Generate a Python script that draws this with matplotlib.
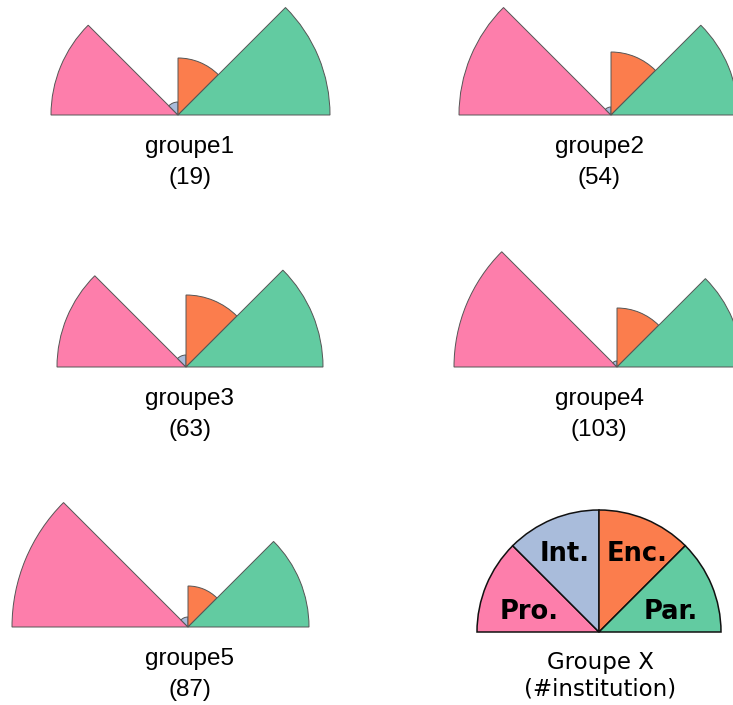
import matplotlib
matplotlib.use("Agg")
import matplotlib.pyplot as plt
import numpy as np
from matplotlib.patches import Wedge

# categories, in drawing order from left (180 deg) to right (0 deg)
categories = ["Pro.", "Int.", "Enc.", "Par."]
colors = ["#fd7eab", "#a9bcdb", "#fb7d4d", "#62cba1"]

groups = ["groupe1", "groupe2", "groupe3", "groupe4", "groupe5"]
counts = [19, 54, 63, 103, 87]

# wedge radii (same unit for every group)
pro = [127, 152, 129, 163, 176]
inte = [13, 8, 12, 6, 10]
enc = [57, 63, 72, 59, 41]
par = [152, 127, 137, 125, 121]

# panel layout (pixels, y downwards)
centers = [(178, 115), (611, 115), (186, 367), (617, 367), (188, 627)]
label_x = [190, 599, 190, 599, 190]
legend_center = (599, 632)
legend_radius = 122
# label position inside the legend wedge: (angle deg, fraction of radius)
legend_pos = [(162, 0.6), (113, 0.72), (65, 0.73), (18, 0.62)]

W, H = 733, 705
fig = plt.figure(figsize=(W / 100, H / 100), dpi=100)
ax = fig.add_axes([0, 0, 1, 1])
ax.set_xlim(0, W)
ax.set_ylim(H, 0)
ax.set_aspect("equal")
ax.axis("off")


def half_rose(ax, c, radii, lw, ec):
    # y axis is inverted, so angles are negated
    for k, (r, col) in enumerate(zip(radii, colors)):
        t1 = 180 - 45 * k
        t2 = t1 - 45
        ax.add_patch(Wedge(c, r, -t1, -t2, facecolor=col,
                           edgecolor=ec, linewidth=lw))


sans = ["Liberation Sans", "DejaVu Sans"]
for i, g in enumerate(groups):
    radii = [pro[i], inte[i], enc[i], par[i]]
    c = centers[i]
    half_rose(ax, c, radii, 0.7, "#555555")
    ax.text(label_x[i], c[1] + 32, g, ha="center", va="center",
            fontsize=17.5, family=sans)
    ax.text(label_x[i], c[1] + 63, "(%d)" % counts[i], ha="center",
            va="center", fontsize=17.5, family=sans)

# explanation panel
half_rose(ax, legend_center, [legend_radius] * 4, 1.1, "#111111")
for name, (ang, f) in zip(categories, legend_pos):
    x = legend_center[0] + legend_radius * f * np.cos(np.radians(ang))
    y = legend_center[1] - legend_radius * f * np.sin(np.radians(ang))
    ax.text(x, y, name, ha="center", va="center_baseline", fontsize=18.5,
            fontweight="bold", family="DejaVu Sans")
ax.text(600, legend_center[1] + 30, "Groupe X", ha="center", va="center",
        fontsize=16.5, family="DejaVu Sans")
ax.text(600, legend_center[1] + 57, "(#institution)", ha="center",
        va="center", fontsize=16.5, family="DejaVu Sans")

fig.savefig("out.png", dpi=100)
